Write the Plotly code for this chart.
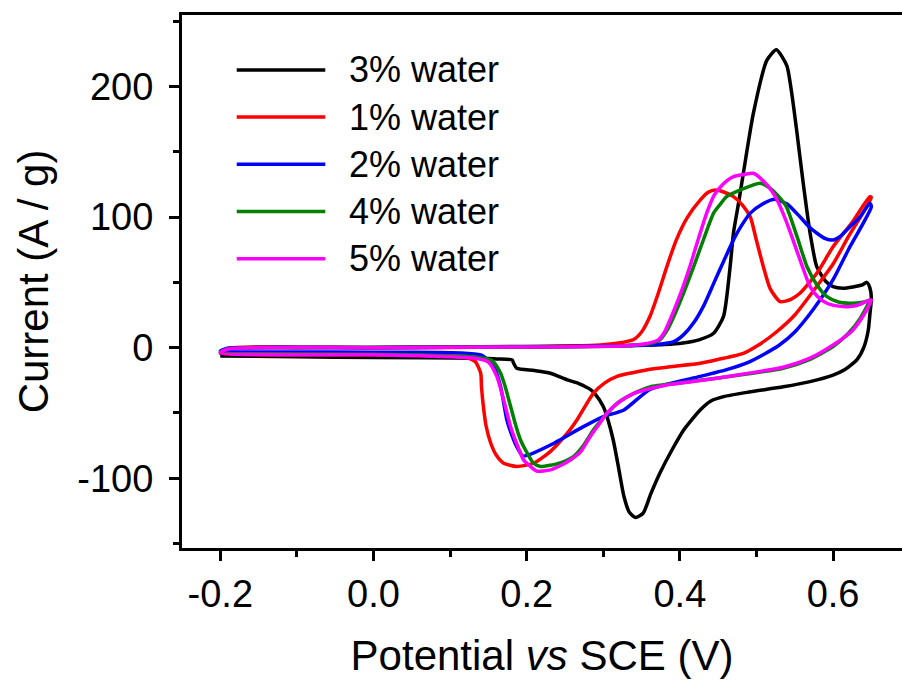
import plotly.graph_objects as go

# ---------------- data ----------------
names = ["3% water", "1% water", "2% water", "4% water", "5% water"]
colors = ["#000000", "#ff0000", "#0000ff", "#008000", "#ff00ff"]

# 3% water (black): forward sweep then reverse sweep
v_3 = [-0.2, -0.19, -0.1, 0.1, 0.3, 0.38, 0.404, 0.425, 0.444, 0.457, 0.4656, 0.470, 0.477, 0.483,
       0.496, 0.5135, 0.526, 0.5396, 0.546, 0.553, 0.561, 0.570, 0.5787, 0.590, 0.600, 0.613, 0.626,
       0.638, 0.644, 0.648,
       0.650, 0.648, 0.646, 0.640, 0.631, 0.615, 0.600, 0.570, 0.535, 0.490, 0.457, 0.440, 0.4265,
       0.405, 0.390, 0.374, 0.362, 0.352, 0.342, 0.334, 0.327, 0.320, 0.313, 0.306, 0.300, 0.290,
       0.283, 0.268, 0.253, 0.231, 0.210, 0.187, 0.183, 0.181, 0.160, 0.144, 0.0, -0.1, -0.2]
i_3 = [-6.0, -1.0, 0.0, 0.5, 1.5, 2.5, 3.6, 6.0, 11.0, 24.0, 62.0, 88.0, 112.0, 134.0,
       179.5, 220.0, 228.0, 216.0, 195.0, 164.0, 126.0, 87.6, 62.0, 51.0, 46.7, 45.5, 46.5,
       48.0, 50.0, 46.0,
       38.0, 25.0, 13.5, 0.0, -9.4, -17.0, -21.0, -26.0, -30.0, -34.0, -37.5, -41.0, -47.7,
       -63.0, -78.0, -96.0, -112.0, -126.8, -130.0, -126.0, -114.0, -92.0, -70.7, -55.0, -45.0, -36.0,
       -32.0, -27.5, -24.7, -19.6, -17.5, -15.8, -12.0, -9.4, -8.6, -8.1, -7.5, -7.0, -6.4]

# 1% water (red)
v_1 = [-0.2, -0.19, 0.0, 0.2, 0.296, 0.320, 0.339, 0.350, 0.361, 0.372, 0.383, 0.395, 0.410, 0.4265,
       0.437, 0.446, 0.458, 0.470, 0.482, 0.492, 0.500, 0.509, 0.518, 0.531, 0.545, 0.557, 0.580,
       0.600, 0.625, 0.648,
       0.650, 0.620, 0.600, 0.575, 0.550, 0.526, 0.500, 0.483, 0.450, 0.4265, 0.390, 0.361, 0.340,
       0.318, 0.302, 0.287, 0.266, 0.253, 0.230, 0.209, 0.187, 0.170, 0.160, 0.153, 0.147, 0.144,
       0.141, 0.140, 0.133, 0.120, 0.0, -0.2]
i_1 = [-4.0, -0.5, 0.0, 0.5, 2.0, 3.5, 6.0, 12.0, 24.0, 42.0, 62.0, 82.0, 100.0, 113.0,
       119.0, 120.7, 119.0, 115.6, 109.0, 100.0, 82.0, 62.0, 45.0, 35.2, 37.0, 41.8, 58.0,
       77.3, 96.0, 115.6,
       115.0, 85.0, 64.0, 44.0, 25.0, 12.0, 1.0, -4.3, -9.0, -12.0, -14.5, -16.5, -19.0,
       -22.0, -27.0, -35.0, -55.0, -65.5, -80.0, -88.5, -91.0, -88.5, -82.0, -73.0, -60.0, -47.7,
       -30.0, -19.6, -10.7, -7.5, -5.5, -4.0]

# 2% water (blue)
v_2 = [-0.2, -0.19, 0.0, 0.2, 0.330, 0.370, 0.392, 0.405, 0.418, 0.431, 0.444, 0.457, 0.470, 0.480,
       0.492, 0.508, 0.524, 0.540, 0.557, 0.568, 0.579, 0.590, 0.600, 0.611, 0.622, 0.635, 0.648,
       0.650, 0.620, 0.600, 0.575, 0.550, 0.530, 0.510, 0.490, 0.460, 0.4265, 0.361, 0.327, 0.300,
       0.274, 0.231, 0.2005, 0.195, 0.187, 0.180, 0.174, 0.166, 0.157, 0.140, 0.0, -0.2]
i_2 = [-2.5, -0.5, 0.0, 0.5, 1.5, 2.5, 4.6, 10.0, 19.0, 32.0, 49.0, 66.0, 82.5, 93.0,
       103.0, 110.0, 113.6, 110.0, 100.0, 93.0, 87.6, 83.5, 82.5, 86.0, 92.6, 100.0, 110.6,
       108.0, 75.0, 52.0, 30.0, 12.0, 2.0, -5.0, -11.0, -17.0, -22.0, -32.0, -47.7, -52.8,
       -60.5, -74.5, -82.5, -83.0, -75.8, -66.0, -55.0, -30.0, -14.5, -5.6, -3.5, -2.5]

# 4% water (green)
v_4 = [-0.2, -0.19, 0.0, 0.2, 0.330, 0.360, 0.374, 0.383, 0.392, 0.405, 0.418, 0.431, 0.444, 0.453,
       0.461, 0.480, 0.505, 0.520, 0.530, 0.539, 0.553, 0.566, 0.579, 0.592, 0.607, 0.622, 0.636,
       0.646,
       0.648, 0.635, 0.620, 0.600, 0.570, 0.535, 0.490, 0.448, 0.400, 0.361, 0.340, 0.318, 0.300,
       0.287, 0.274, 0.261, 0.245, 0.231, 0.218, 0.209, 0.200, 0.192, 0.185, 0.179, 0.172, 0.166,
       0.155, 0.130, 0.0, -0.2]
i_4 = [-3.5, -1.0, 0.0, 0.5, 1.5, 3.0, 6.0, 13.0, 23.7, 42.0, 62.0, 83.0, 103.0, 110.0,
       115.6, 121.0, 125.9, 121.0, 115.0, 108.0, 85.0, 62.0, 48.0, 39.0, 35.0, 34.0, 34.5,
       36.0,
       36.5, 22.0, 11.0, 0.8, -9.0, -15.8, -20.0, -23.4, -27.0, -30.0, -35.0, -42.6, -54.0,
       -63.0, -75.0, -83.5, -88.0, -90.0, -91.0, -88.5, -80.0, -70.7, -58.0, -45.0, -30.0, -19.6,
       -10.0, -7.0, -5.0, -3.5]

# 5% water (magenta)
v_5 = [-0.2, -0.19, 0.0, 0.2, 0.330, 0.355, 0.372, 0.380, 0.387, 0.400, 0.413, 0.424, 0.435, 0.445,
       0.453, 0.462, 0.470, 0.483, 0.496, 0.510, 0.520, 0.527, 0.538, 0.548, 0.560, 0.570, 0.580,
       0.592, 0.605, 0.618, 0.632, 0.646,
       0.650, 0.640, 0.625, 0.600, 0.570, 0.535, 0.490, 0.448, 0.410, 0.383, 0.360, 0.340, 0.320,
       0.305, 0.294, 0.283, 0.270, 0.257, 0.245, 0.231, 0.213, 0.205, 0.196, 0.188, 0.179, 0.170,
       0.161, 0.150, 0.130, 0.0, -0.2]
i_5 = [-4.0, -1.0, 0.0, 0.5, 1.5, 3.0, 6.0, 12.0, 21.0, 40.0, 62.0, 83.0, 103.0, 117.0,
       123.0, 128.0, 131.0, 132.5, 133.5, 127.0, 120.0, 113.0, 98.0, 82.0, 62.0, 46.7, 39.0,
       34.0, 32.0, 31.4, 32.5, 36.0,
       36.5, 25.0, 13.0, 2.0, -8.0, -15.0, -19.5, -23.4, -26.5, -28.6, -31.5, -35.0, -42.0,
       -50.0, -59.0, -68.0, -80.0, -86.0, -90.0, -93.6, -94.5, -91.0, -86.0, -75.0, -60.5, -40.0,
       -22.0, -11.0, -8.0, -5.5, -4.0]

series_v = [v_3, v_1, v_2, v_4, v_5]
series_i = [i_3, i_1, i_2, i_4, i_5]

x_tick_vals = [-0.2, 0.0, 0.2, 0.4, 0.6]
x_tick_text = ["-0.2", "0.0", "0.2", "0.4", "0.6"]
x_minor_vals = [-0.1, 0.1, 0.3, 0.5]
y_tick_vals = [-100, 0, 100, 200]
y_tick_text = ["-100", "0", "100", "200"]
y_minor_vals = [-150, -50, 50, 150, 250]

x_range = [-0.25, 0.69]
y_range = [-153.4, 254.7]

# ---------------- figure ----------------
FONT = "Arial, Liberation Sans, Helvetica, sans-serif"
fig = go.Figure()
for name, color, vv, ii in zip(names, colors, series_v, series_i):
    fig.add_trace(go.Scatter(
        x=vv, y=ii, mode="lines", name=name,
        line=dict(color=color, width=3.5, shape="spline", smoothing=0.6),
        showlegend=False, hoverinfo="skip"))

# custom legend (long line samples like the original)
leg_x0, leg_x1, leg_tx = 0.076, 0.199, 0.229
leg_y0, leg_dy = 0.897, 0.0886
for k, (name, color) in enumerate(zip(names, colors)):
    yk = leg_y0 - k * leg_dy
    fig.add_shape(type="line", xref="x domain", yref="y domain",
                  x0=leg_x0, x1=leg_x1, y0=yk, y1=yk,
                  line=dict(color=color, width=3.5))
    fig.add_annotation(xref="x domain", yref="y domain", x=leg_tx, y=yk,
                       text=name, showarrow=False, xanchor="left", yanchor="middle",
                       font=dict(family=FONT, size=36, color="black"))

fig.update_layout(
    width=902, height=682,
    margin=dict(l=182, r=0, t=15, b=134, autoexpand=False),
    paper_bgcolor="white", plot_bgcolor="white",
    font=dict(family=FONT, color="black"),
)
fig.update_xaxes(
    range=x_range, showgrid=False, zeroline=False,
    showline=True, linecolor="black", linewidth=3, mirror=True,
    ticks="outside", ticklen=10, tickwidth=3, tickcolor="black",
    tickmode="array", tickvals=x_tick_vals, ticktext=x_tick_text,
    tickfont=dict(family=FONT, size=38), ticklabelstandoff=0,
    minor=dict(tickvals=x_minor_vals, ticks="outside", ticklen=6, tickwidth=3, tickcolor="black"),
    title=dict(text="Potential <i>vs</i> SCE (V)", font=dict(family=FONT, size=42), standoff=28),
)
fig.update_yaxes(
    range=y_range, showgrid=False, zeroline=False,
    showline=True, linecolor="black", linewidth=3, mirror=False,
    ticks="outside", ticklen=10, tickwidth=3, tickcolor="black",
    tickmode="array", tickvals=y_tick_vals, ticktext=y_tick_text,
    tickfont=dict(family=FONT, size=38), ticklabelstandoff=8,
    minor=dict(tickvals=y_minor_vals, ticks="outside", ticklen=6, tickwidth=3, tickcolor="black"),
    title=dict(text="Current (A / g)", font=dict(family=FONT, size=42), standoff=16),
)

fig.write_html("out.html")
